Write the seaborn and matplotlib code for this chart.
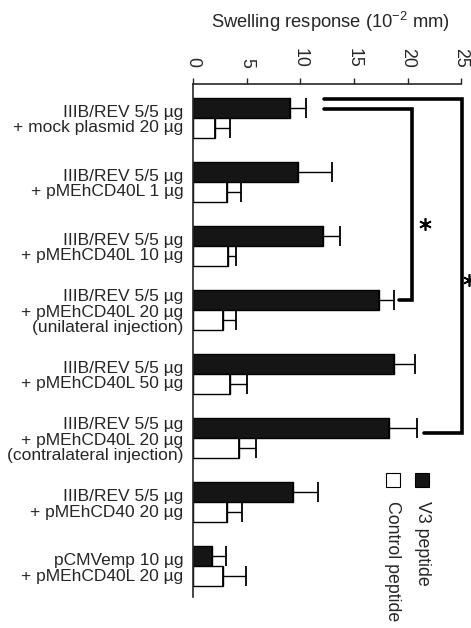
import matplotlib
matplotlib.use("Agg")
import matplotlib.pyplot as plt
import seaborn as sns
import pandas as pd
import numpy as np

# ---- data ----
groups = [
    "IIIB/REV 5/5 µg\n+ mock plasmid 20 µg",
    "IIIB/REV 5/5 µg\n+ pMEhCD40L 1 µg",
    "IIIB/REV 5/5 µg\n+ pMEhCD40L 10 µg",
    "IIIB/REV 5/5 µg\n+ pMEhCD40L 20 µg\n(unilateral injection)",
    "IIIB/REV 5/5 µg\n+ pMEhCD40L 50 µg",
    "IIIB/REV 5/5 µg\n+ pMEhCD40L 20 µg\n(contralateral injection)",
    "IIIB/REV 5/5 µg\n+ pMEhCD40 20 µg",
    "pCMVemp 10 µg\n+ pMEhCD40L 20 µg",
]
series = ["V3 peptide", "Control peptide"]
v3_means = [9.0, 9.8, 12.1, 17.35, 18.7, 18.3, 9.35, 1.75]
v3_err = [1.5, 3.2, 1.6, 1.35, 2.0, 2.6, 2.3, 1.35]
ctrl_means = [2.0, 3.2, 3.3, 2.8, 3.45, 4.3, 3.2, 2.8]
ctrl_err = [1.45, 1.3, 0.7, 1.2, 1.55, 1.6, 1.4, 2.15]
x_ticks = [0, 5, 10, 15, 20, 25]
title = "Swelling response (10$^{-2}$ mm)"

df = pd.DataFrame({
    "group": groups * 2,
    "value": v3_means + ctrl_means,
    "peptide": [series[0]] * len(groups) + [series[1]] * len(groups),
})

sns.set_style("ticks")
plt.rcParams["font.family"] = ["Liberation Sans", "DejaVu Sans"]
plt.rcParams["mathtext.fontset"] = "custom"
plt.rcParams["mathtext.rm"] = "Liberation Sans"
plt.rcParams["mathtext.it"] = "Liberation Sans:italic"

fig = plt.figure(figsize=(4.71, 6.28), dpi=100)
ax = fig.add_axes([0.41, 0.049, 0.569, 0.817])

palette = {series[0]: "#151515", series[1]: "white"}
sns.barplot(data=df, y="group", x="value", hue="peptide", orient="h",
            order=groups, hue_order=series, palette=palette,
            edgecolor="black", linewidth=1.0, width=0.625,
            errorbar=None, legend=False, ax=ax)

# one-sided error bars placed on the drawn bars
errs = [v3_err, ctrl_err]
for cont, err in zip(ax.containers, errs):
    for patch, e in zip(cont.patches, err):
        yc = patch.get_y() + patch.get_height() / 2
        xv = patch.get_width()
        ax.errorbar([xv], [yc], xerr=[[0], [e]], fmt="none", ecolor="black",
                    elinewidth=1.0, capsize=7.2, capthick=1.3, zorder=3)

ax.set_xlim(0, 25)
ax.set_ylim(7.48, -0.53)
ax.xaxis.tick_top()
ax.set_xticks(x_ticks)
ax.set_xticklabels([str(t) for t in x_ticks], rotation=-90, fontsize=12.8)
ax.tick_params(axis="x", direction="out", length=4.5, width=1.0, pad=7.5, top=True, bottom=False)
ax.tick_params(axis="y", length=0, pad=7)
for lab in ax.get_yticklabels():
    lab.set_fontsize(12.5)
    lab.set_ha("right")
    lab.set_linespacing(1.05)
ax.set_xlabel("")
ax.set_ylabel("")
for s in ["right", "bottom"]:
    ax.spines[s].set_visible(False)
ax.spines["top"].set_linewidth(1.2)
ax.spines["left"].set_linewidth(1.2)

# significance brackets
bars_v3 = ax.containers[0].patches
def ycen(i):
    p = bars_v3[i]
    return p.get_y() + p.get_height() / 2

x_start = 12.2
y_inner = ycen(0) + 0.02
y_outer = ycen(0) - 0.14
ax.plot([x_start, 20.4, 20.4, 19.2], [y_inner, y_inner, ycen(3), ycen(3)],
        color="black", lw=2.6, solid_joinstyle="miter", clip_on=False)
ax.plot([x_start, 25.1, 25.1, 21.5], [y_outer, y_outer, ycen(5) + 0.08, ycen(5) + 0.08],
        color="black", lw=2.6, solid_joinstyle="miter", clip_on=False)
ax.plot([21.6], [(y_inner + ycen(3)) / 2 + 0.3], marker=(6, 2, 0), ms=9, mew=1.2,
        color="black", clip_on=False)
ax.plot([25.75], [(y_outer + ycen(5)) / 2 + 0.25], marker=(6, 2, 0), ms=9, mew=1.2,
        color="black", clip_on=False)

# title
fig.text(330 / 471, 1 - 22 / 628, title, ha="center", va="center", fontsize=13.2)

# rotated legend (drawn manually)
from matplotlib.patches import Rectangle
leg = [(415, series[0], "#151515"), (386, series[1], "white")]
for xl, lab, col in leg:
    fig.patches.append(Rectangle((xl / 471, 1 - 487 / 628), 14 / 471, 14 / 628,
                                 transform=fig.transFigure, facecolor=col,
                                 edgecolor="black", linewidth=0.8))
    fig.text((xl + 7) / 471, 1 - 501 / 628, lab, rotation=-90, ha="center",
             va="top", fontsize=12.8)

fig.savefig("out.png", dpi=100)
